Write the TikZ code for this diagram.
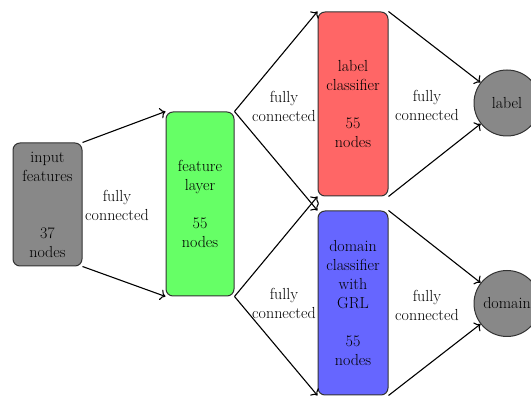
\documentclass[tikz,border=0pt]{standalone}
\usepackage{tikz}
\usetikzlibrary{arrows.meta}
\definecolor{nodegray}{HTML}{888888}
\definecolor{featgreen}{HTML}{66FF66}
\definecolor{labred}{HTML}{FF6666}
\definecolor{domblue}{HTML}{6666FF}
\definecolor{edgegray}{HTML}{333333}
\tikzset{
  layerbox/.style={draw=edgegray, line width=1pt, rounded corners=7pt,
    align=center, inner sep=0pt, minimum width=69pt},
  outcircle/.style={circle, draw=edgegray, line width=1pt, fill=nodegray,
    minimum size=66pt, inner sep=0pt},
  fc/.style={-{To[scale=1.3]}, line width=1.1pt},
  fclabel/.style={align=center},
}
\begin{document}
\begin{tikzpicture}[x=1pt, y=1pt,
    every node/.style={font=\fontsize{16}{19}\selectfont}]
  \useasboundingbox (0,0) rectangle (531,396);
  \clip (0,0) rectangle (531,396);

  % layers
  \node[layerbox, fill=nodegray, minimum height=123pt] (in) at (47.5,191.5)
    {input\\features\\[38pt]37\\nodes};
  \node[layerbox, fill=featgreen, minimum width=68pt, minimum height=184pt] (feat) at (200,192)
    {feature\\layer\\[19pt]55\\nodes};
  \node[layerbox, fill=labred, minimum width=70pt, minimum height=184pt] (lab) at (353,292)
    {label\\classifier\\[19pt]55\\nodes};
  \node[layerbox, fill=domblue, minimum width=70pt, minimum height=184pt] (dom) at (353,93)
    {domain\\classifier\\with\\GRL\\[19pt]55\\nodes};

  % outputs
  \node[outcircle] (labout) at (507,293) {label};
  \node[outcircle] (domout) at (507,92.5) {domain};

  % fully connected links
  \draw[fc] (in.north east) -- (feat.north west);
  \draw[fc] (in.south east) -- (feat.south west);
  \draw[fc] (feat.north east) -- (lab.north west);
  \draw[fc] (feat.north east) -- (dom.north west);
  \draw[fc] (feat.south east) -- (lab.south west);
  \draw[fc] (feat.south east) -- (dom.south west);
  \draw[fc] (lab.north east) -- (labout);
  \draw[fc] (lab.south east) -- (labout);
  \draw[fc] (dom.north east) -- (domout);
  \draw[fc] (dom.south east) -- (domout);

  % link labels
  \node[fclabel] (t1) at (117,191) {fully\\connected};
  \node[fclabel] (t2) at (284,290) {fully\\connected};
  \node[fclabel] (t3) at (284,93) {fully\\connected};
  \node[fclabel] (t4) at (427,291) {fully\\connected};
  \node[fclabel] (t5) at (427,91) {fully\\connected};
\end{tikzpicture}
\end{document}
